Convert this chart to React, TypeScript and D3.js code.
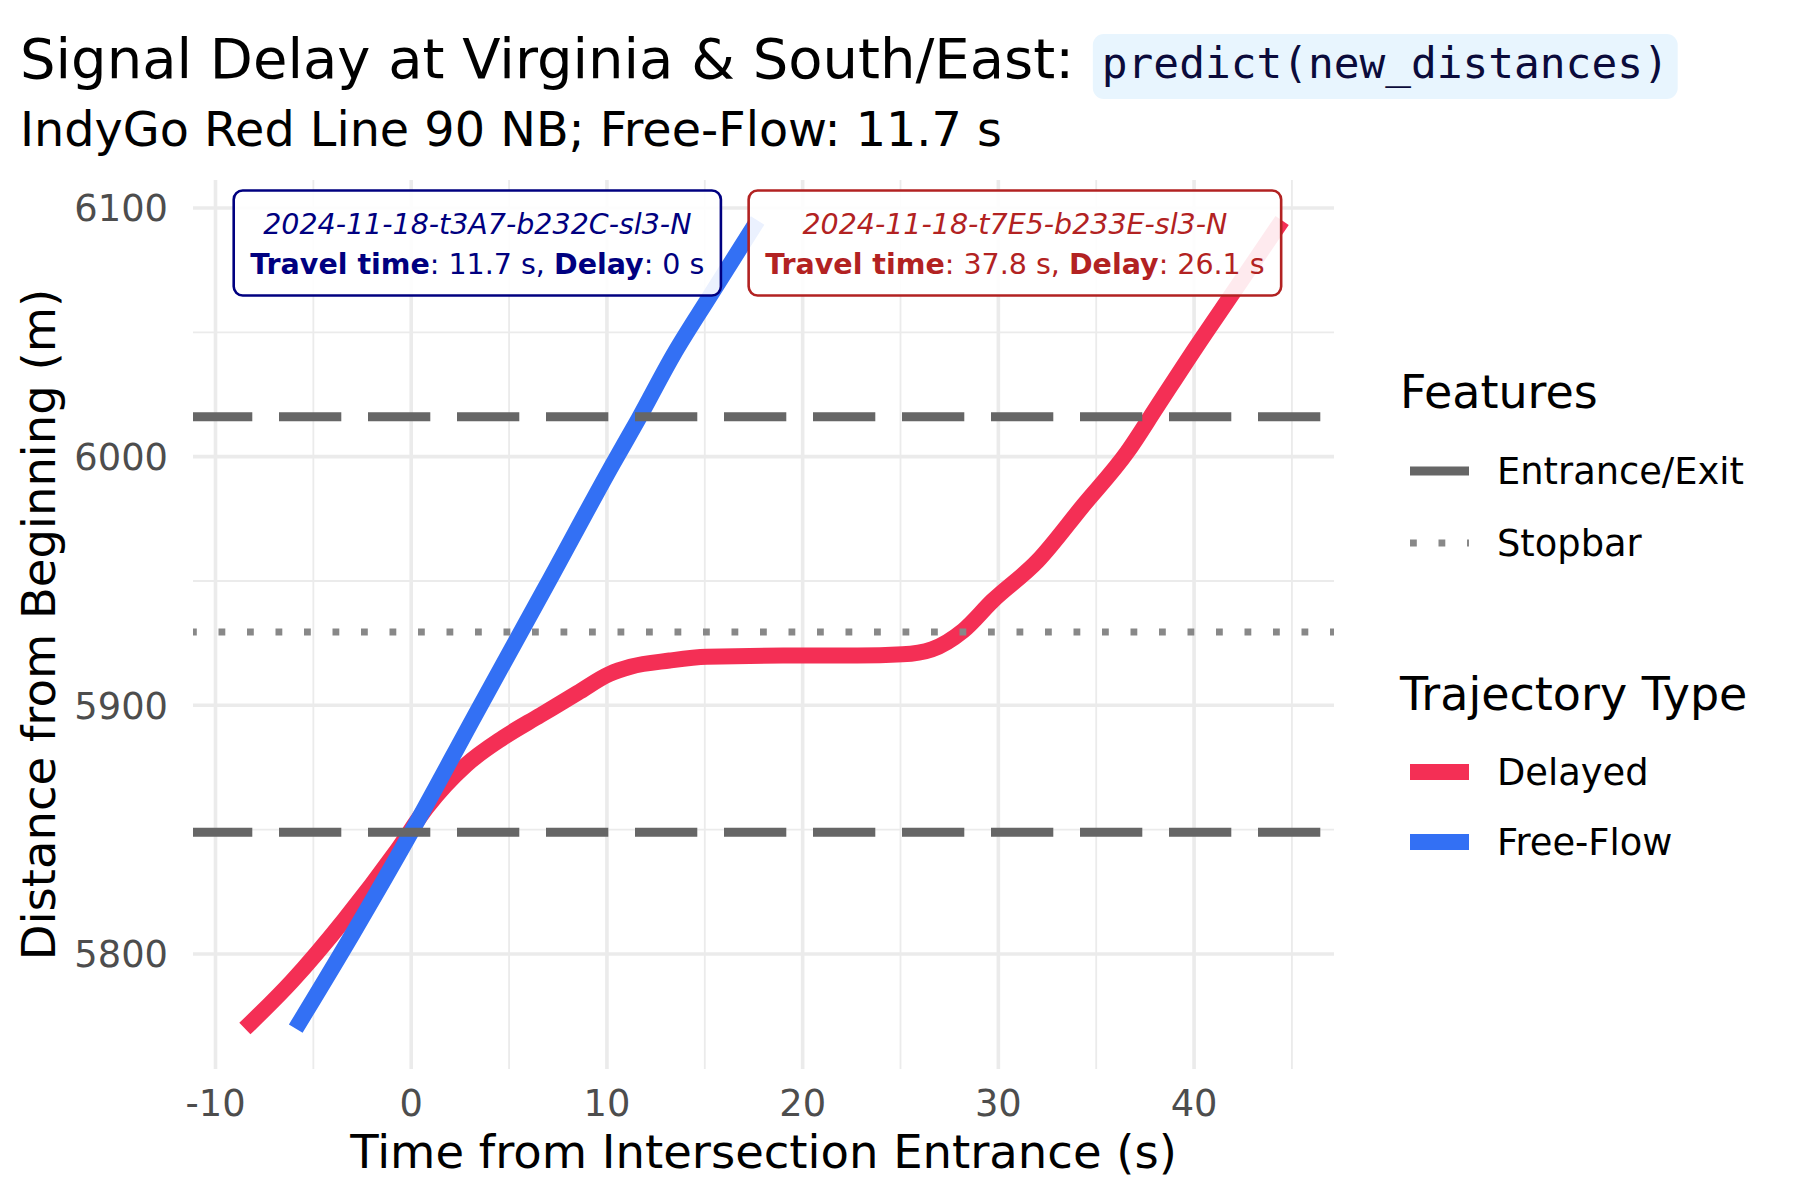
import React, { useEffect, useRef } from "react";
import * as d3 from "d3";

// ---------------- data ----------------
const freeFlowTime = [-5.9, -3.0, 0, 3.4, 6.9, 10.3, 11.6, 13.4, 15.3, 17.7];
const freeFlowDist = [5770, 5808, 5849, 5898, 5948, 5997, 6015, 6041, 6065, 6095];

const delayedTime = [-8.5, -6.1, -3.4, -0.7, 0.8, 2.8, 4.7, 6.6, 8.5, 10.1, 11.2, 13.2, 15.1, 19.0, 22.8, 25.1, 26.6, 28.2, 29.7, 32.0, 34.3, 36.6, 38.1, 40.1, 42.0, 44.5];
const delayedDist = [5770, 5789, 5814, 5842, 5859, 5876, 5887, 5896, 5905, 5912.5, 5915.5, 5918, 5919.5, 5920, 5920, 5920.5, 5922.5, 5930, 5942, 5958, 5980, 6002, 6020, 6044, 6066, 6095];

const entranceExitDist = [5849, 6016];
const stopbarDist = [5929.5];

const xTicks = [-10, 0, 10, 20, 30, 40];
const xMinorTicks = [-5, 5, 15, 25, 35, 45];
const yTicks = [5800, 5900, 6000, 6100];
const yMinorTicks = [5850, 5950, 6050];

const featureNames = ["Entrance/Exit", "Stopbar"];
const trajectoryTypes = ["Delayed", "Free-Flow"];

const labelIds = ["2024-11-18-t3A7-b232C-sl3-N", "2024-11-18-t7E5-b233E-sl3-N"];
const labelTravel = ["11.7", "37.8"];
const labelDelay = ["0", "26.1"];
const labelAnchorTime = [-9.07, 44.45];
const labelAnchorHjust = [0, 1];
const labelTopDist = 6107;

const titleText = "Signal Delay at Virginia & South/East:";
const titleCode = "predict(new_distances)";
const subtitleText = "IndyGo Red Line 90 NB; Free-Flow: 11.7 s";
const xTitle = "Time from Intersection Entrance (s)";
const yTitle = "Distance from Beginning (m)";

// ---------------- layout / style ----------------
const W = 1800, H = 1200;
const PL = 193, PR = 1334, PT = 180, PB = 1069;
const FONT = "'DejaVu Sans', Verdana, sans-serif";
const MONO = "'DejaVu Sans Mono', monospace";
const RED = "#F42F55";
const BLUE = "#3370F4";
const NAVY = "#000080";
const FIREBRICK = "#B22222";
const DASH_COL = "#666666";
const DOT_COL = "#888888";
const GRID = "#EBEBEB";
const DASH = "62.3 26.7";
const DOT = "6.8 21.7";

export default function App() {
  const ref = useRef<SVGSVGElement>(null);

  useEffect(() => {
    const svg = d3.select(ref.current);
    svg.selectAll("*").remove();

    const allT = [...delayedTime, ...freeFlowTime];
    const allD = [...delayedDist, ...freeFlowDist];
    const [t0, t1] = d3.extent(allT) as [number, number];
    const [d0, d1] = d3.extent(allD) as [number, number];
    const tPad = (t1 - t0) * 0.05;
    const dPad = (d1 - d0) * 0.05;
    const x = d3.scaleLinear().domain([t0 - tPad, t1 + tPad]).range([PL, PR]);
    const y = d3.scaleLinear().domain([d0 - dPad, d1 + dPad]).range([PB, PT]);

    svg.append("rect").attr("width", W).attr("height", H).attr("fill", "#fff");

    // grid
    const g = svg.append("g");
    g.selectAll(".vminor").data(xMinorTicks).join("line")
      .attr("x1", (d) => x(d)).attr("x2", (d) => x(d)).attr("y1", PT).attr("y2", PB)
      .attr("stroke", GRID).attr("stroke-width", 1.8);
    g.selectAll(".hminor").data(yMinorTicks).join("line")
      .attr("y1", (d) => y(d)).attr("y2", (d) => y(d)).attr("x1", PL).attr("x2", PR)
      .attr("stroke", GRID).attr("stroke-width", 1.8);
    g.selectAll(".vmajor").data(xTicks).join("line")
      .attr("x1", (d) => x(d)).attr("x2", (d) => x(d)).attr("y1", PT).attr("y2", PB)
      .attr("stroke", GRID).attr("stroke-width", 3.6);
    g.selectAll(".hmajor").data(yTicks).join("line")
      .attr("y1", (d) => y(d)).attr("y2", (d) => y(d)).attr("x1", PL).attr("x2", PR)
      .attr("stroke", GRID).attr("stroke-width", 3.6);

    // tick labels
    svg.append("g").selectAll("text").data(xTicks).join("text")
      .attr("x", (d) => x(d)).attr("y", 1116)
      .attr("text-anchor", "middle").attr("font-family", FONT).attr("font-size", 36.8)
      .attr("fill", "#4D4D4D").text((d) => String(d));
    svg.append("g").selectAll("text").data(yTicks).join("text")
      .attr("x", 168).attr("y", (d) => y(d) + 13.4)
      .attr("text-anchor", "end").attr("font-family", FONT).attr("font-size", 36.8)
      .attr("fill", "#4D4D4D").text((d) => String(d));

    // axis titles
    svg.append("text").attr("x", (PL + PR) / 2).attr("y", 1168)
      .attr("text-anchor", "middle").attr("font-family", FONT).attr("font-size", 46.5)
      .attr("fill", "#000").text(xTitle);
    svg.append("text").attr("transform", `translate(55,${(PT + PB) / 2}) rotate(-90)`)
      .attr("text-anchor", "middle").attr("font-family", FONT).attr("font-size", 46.5)
      .attr("fill", "#000").text(yTitle);

    // trajectories
    const line = d3.line<[number, number]>()
      .x((d) => x(d[0])).y((d) => y(d[1])).curve(d3.curveMonotoneX);
    const delayedPts = delayedTime.map((t, i) => [t, delayedDist[i]] as [number, number]);
    const freePts = freeFlowTime.map((t, i) => [t, freeFlowDist[i]] as [number, number]);
    svg.append("path").attr("d", line(delayedPts) || "").attr("fill", "none")
      .attr("stroke", RED).attr("stroke-width", 16).attr("stroke-linecap", "butt")
      .attr("stroke-linejoin", "round");
    svg.append("path").attr("d", line(freePts) || "").attr("fill", "none")
      .attr("stroke", BLUE).attr("stroke-width", 16).attr("stroke-linecap", "butt")
      .attr("stroke-linejoin", "round");

    // feature lines (pattern phase starts just left of the panel edge)
    const phase = PL - 190;
    svg.append("g").selectAll("line").data(entranceExitDist).join("line")
      .attr("x1", PL).attr("x2", PR).attr("y1", (d) => y(d)).attr("y2", (d) => y(d))
      .attr("stroke", DASH_COL).attr("stroke-width", 9)
      .attr("stroke-dasharray", DASH).attr("stroke-dashoffset", phase);
    svg.append("g").selectAll("line").data(stopbarDist).join("line")
      .attr("x1", PL).attr("x2", PR).attr("y1", (d) => y(d)).attr("y2", (d) => y(d))
      .attr("stroke", DOT_COL).attr("stroke-width", 7)
      .attr("stroke-dasharray", DOT).attr("stroke-dashoffset", phase);

    // trajectory labels
    const labelColors = [NAVY, FIREBRICK];
    labelIds.forEach((id, i) => {
      const lg = svg.append("g");
      const rect = lg.append("rect");
      const top = y(labelTopDist);
      const col = labelColors[i];
      const t1e = lg.append("text").attr("font-family", FONT).attr("font-size", 28.5)
        .attr("font-style", "italic").attr("fill", col).attr("text-anchor", "middle")
        .text(id);
      const t2e = lg.append("text").attr("font-family", FONT).attr("font-size", 28.5)
        .attr("fill", col).attr("text-anchor", "middle");
      t2e.append("tspan").attr("font-weight", "bold").text("Travel time");
      t2e.append("tspan").text(`: ${labelTravel[i]} s, `);
      t2e.append("tspan").attr("font-weight", "bold").text("Delay");
      t2e.append("tspan").text(`: ${labelDelay[i]} s`);
      const w1 = (t1e.node() as SVGTextElement).getComputedTextLength();
      const w2 = (t2e.node() as SVGTextElement).getComputedTextLength();
      const bw = Math.max(w1, w2) + 33;
      const bh = 105;
      const ax = x(labelAnchorTime[i]);
      const left = labelAnchorHjust[i] === 0 ? ax : ax - bw;
      const cx = left + bw / 2;
      rect.attr("x", left).attr("y", top).attr("width", bw).attr("height", bh)
        .attr("rx", 9).attr("ry", 9).attr("fill", "#fff").attr("fill-opacity", 0.9)
        .attr("stroke", col).attr("stroke-width", 2.6);
      t1e.attr("x", cx).attr("y", top + 43);
      t2e.attr("x", cx).attr("y", top + 83);
    });

    // title
    const title = svg.append("text").attr("x", 20).attr("y", 78)
      .attr("font-family", FONT).attr("font-size", 56).attr("fill", "#000")
      .text(titleText + "\u00A0");
    const tw = (title.node() as SVGTextElement).getComputedTextLength();
    const boxL = 20 + tw + 1;
    const codeG = svg.append("g");
    const codeRect = codeG.append("rect");
    const code = codeG.append("text").attr("x", boxL + 9).attr("y", 78)
      .attr("font-family", MONO).attr("font-size", 42.8).attr("fill", "#0B0B3B")
      .text(titleCode);
    const cw = (code.node() as SVGTextElement).getComputedTextLength();
    codeRect.attr("x", boxL).attr("y", 34).attr("width", cw + 18).attr("height", 65)
      .attr("rx", 11).attr("ry", 11).attr("fill", "#E8F5FE");

    svg.append("text").attr("x", 20).attr("y", 146)
      .attr("font-family", FONT).attr("font-size", 47.7).attr("fill", "#000")
      .text(subtitleText);

    // legend
    const LX = 1400, KX0 = 1410, KX1 = 1469, TX = 1497;
    svg.append("text").attr("x", LX).attr("y", 407.5).attr("font-family", FONT)
      .attr("font-size", 46).attr("fill", "#000").text("Features");
    const featY = [471, 543];
    const featStyle = [
      { c: DASH_COL, w: 9, da: DASH },
      { c: DOT_COL, w: 7, da: DOT },
    ];
    featureNames.forEach((n, i) => {
      svg.append("line").attr("x1", KX0).attr("x2", KX1).attr("y1", featY[i]).attr("y2", featY[i])
        .attr("stroke", featStyle[i].c).attr("stroke-width", featStyle[i].w)
        .attr("stroke-dasharray", featStyle[i].da);
      svg.append("text").attr("x", TX).attr("y", featY[i] + 13).attr("font-family", FONT)
        .attr("font-size", 36.8).attr("fill", "#000").text(n);
    });
    svg.append("text").attr("x", LX).attr("y", 709.5).attr("font-family", FONT)
      .attr("font-size", 46).attr("fill", "#000").text("Trajectory Type");
    const trajY = [772, 842];
    const trajCol = [RED, BLUE];
    trajectoryTypes.forEach((n, i) => {
      svg.append("line").attr("x1", KX0).attr("x2", KX1).attr("y1", trajY[i]).attr("y2", trajY[i])
        .attr("stroke", trajCol[i]).attr("stroke-width", 16);
      svg.append("text").attr("x", TX).attr("y", trajY[i] + 13).attr("font-family", FONT)
        .attr("font-size", 36.8).attr("fill", "#000").text(n);
    });
  }, []);

  return (
    <svg
      ref={ref}
      width={W}
      height={H}
      style={{ position: "absolute", left: 0, top: 0, display: "block" }}
    />
  );
}
